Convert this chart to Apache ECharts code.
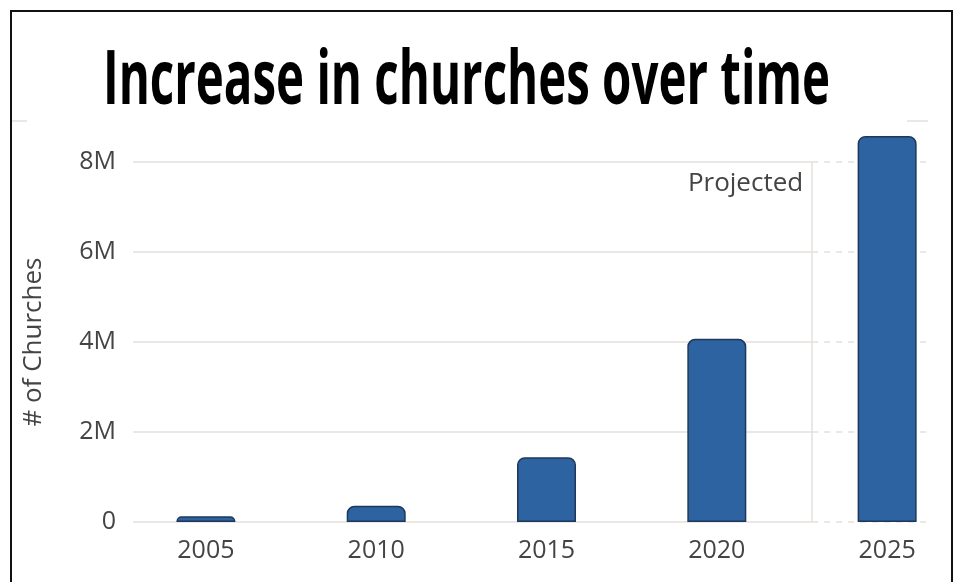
<!DOCTYPE html>
<html>
<head>
<meta charset="utf-8">
<style>html,body{margin:0;padding:0;background:#fff;}#c{width:962px;height:582px;}</style>
<script src="https://cdn.jsdelivr.net/npm/echarts@6/dist/echarts.min.js"></script>
</head>
<body>
<div id="c"></div>
<script>
const years = [2005, 2010, 2015, 2020, 2025];
const churches = [130000, 360000, 1440000, 4070000, 8580000];
const yTicks = [0, 2000000, 4000000, 6000000, 8000000];
const yTickLabels = ['0', '2M', '4M', '6M', '8M'];
const titleText = 'Increase in churches over time';
const yAxisTitle = '# of Churches';
const projectedLabel = 'Projected';
const projectedFrom = 2022.8;

const xMin = 2002.86, xMax = 2026.2;
const gridColor = '#e3dfdc';

// gridlines: solid before projection boundary, dashed after
const gridLines = [];
yTicks.forEach(v => {
  gridLines.push([{coord: [xMin, v]}, {coord: [projectedFrom, v], lineStyle: {type: 'solid'}}]);
  gridLines.push([{coord: [projectedFrom, v], lineStyle: {type: [6, 6]}}, {coord: [xMax, v]}]);
});
gridLines.push([{coord: [projectedFrom, 0]}, {coord: [projectedFrom, yTicks[yTicks.length - 1]]}]);

// title scaling to mimic condensed heavy font
const titleSize = 76;
const ctx = document.createElement('canvas').getContext('2d');
ctx.font = 'bold ' + titleSize + 'px "Open Sans"';
const natural = ctx.measureText(titleText).width;
const titleScale = 727 / natural;

const chart = echarts.init(document.getElementById('c'), null, {renderer: 'canvas'});
chart.setOption({
  animation: false,
  backgroundColor: '#fff',
  grid: {left: 133, right: 34, top: 162, bottom: 60, containLabel: false},
  xAxis: {
    type: 'value', min: xMin, max: xMax,
    axisLine: {show: false}, axisTick: {show: false}, splitLine: {show: false},
    axisLabel: {
      customValues: years, color: '#444', fontFamily: 'Open Sans', fontSize: 25, margin: 16,
      formatter: v => String(v)
    }
  },
  yAxis: {
    type: 'value', min: 0, max: 8000000, interval: 2000000,
    name: yAxisTitle, nameLocation: 'middle', nameRotate: 90, nameGap: 86,
    nameTextStyle: {color: '#444', fontFamily: 'Open Sans', fontSize: 26},
    axisLine: {show: false}, axisTick: {show: false}, splitLine: {show: false},
    axisLabel: {
      color: '#444', fontFamily: 'Open Sans', fontSize: 25, margin: 17,
      formatter: v => yTickLabels[yTicks.indexOf(v)] !== undefined ? yTickLabels[yTicks.indexOf(v)] : ''
    }
  },
  series: [
    {
      type: 'scatter', z: 1, silent: true, symbolSize: 0,
      data: years.map((y, i) => [y, 0]),
      markLine: {
        z: 0, silent: true, symbol: 'none', animation: false,
        lineStyle: {color: gridColor, width: 1.5, type: 'solid'},
        label: {show: false},
        data: gridLines
      },
      markPoint: {
        z: 0, silent: true, symbol: 'circle', symbolSize: 0,
        label: {
          show: true, position: 'left', distance: 9, formatter: projectedLabel,
          color: '#444', fontFamily: 'Open Sans', fontSize: 26
        },
        data: [{coord: [projectedFrom, 7530000]}]
      }
    },
    {
      type: 'bar', z: 3, clip: false, barWidth: 59,
      data: years.map((y, i) => [y, churches[i]]),
      itemStyle: {color: '#2d63a1', borderColor: '#1f3859', borderWidth: 1.5, borderRadius: [7, 7, 0, 0]}
    }
  ],
  graphic: [
    {type: 'rect', shape: {x: 11, y: 11, width: 941, height: 600}, style: {fill: 'none', stroke: '#111', lineWidth: 2}, z: 10},
    {type: 'line', shape: {x1: 12, y1: 121, x2: 27, y2: 121}, style: {stroke: gridColor, lineWidth: 1.5}},
    {type: 'line', shape: {x1: 907, y1: 121, x2: 928, y2: 121}, style: {stroke: gridColor, lineWidth: 1.5}},
    {
      type: 'text', left: 103, top: 44, scaleX: titleScale, z: 20,
      style: {text: titleText, font: 'bold ' + titleSize + 'px "Open Sans"', fill: '#000'}
    }
  ]
});
</script>
</body>
</html>
